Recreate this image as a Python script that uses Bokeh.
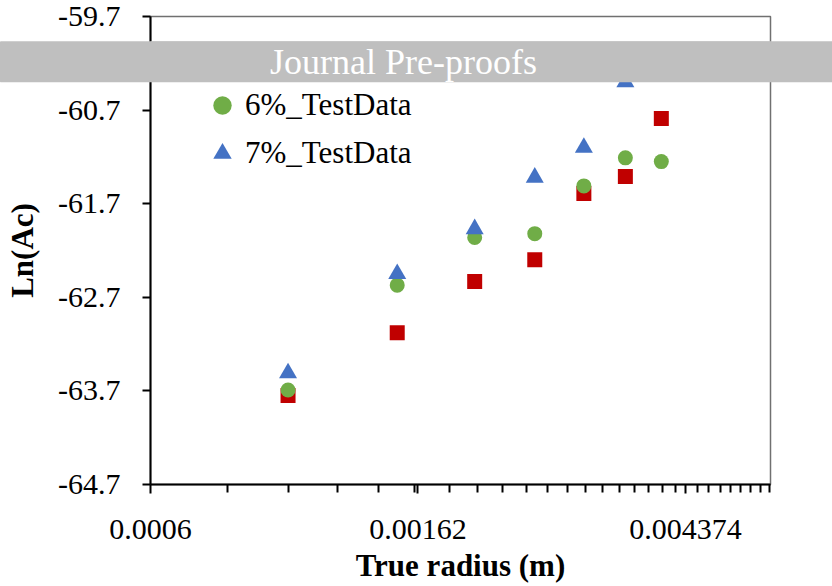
from bokeh.plotting import figure
from bokeh.models import FixedTicker, Legend, LegendItem, Label, BoxAnnotation, Range1d
from bokeh.embed import file_html
from bokeh.resources import INLINE

# True radius (m) of each test point
radius = [0.001, 0.0015, 0.002, 0.0025, 0.003, 0.0035, 0.004]
radius_7 = [0.001, 0.0015, 0.002, 0.0025, 0.003, 0.0035]

# Ln(Ac) per data set
ln_ac_5 = [-63.75, -63.08, -62.53, -62.30, -61.59, -61.41, -60.79]
ln_ac_6 = [-63.69, -62.57, -62.06, -62.02, -61.51, -61.21, -61.25]
ln_ac_7 = [-63.51, -62.45, -61.97, -61.42, -61.10, -60.40]

# axis ticks and labels
x_major = [0.0006, 0.00162, 0.004374]
x_labels = ["0.0006", "0.00162", "0.004374"]
y_major = [-64.7, -63.7, -62.7, -61.7, -60.7, -59.7]
y_labels = ["-64.7", "-63.7", "-62.7", "-61.7", "-60.7", "-59.7"]

X_MIN, X_MAX = 0.0006, 0.006
Y_MIN, Y_MAX = -64.7, -59.7
MINOR_STEP = 0.0002

# minor ticks: fixed linear step counted from each major tick
x_minor = []
bounds = x_major + [X_MAX]
for lo, hi in zip(bounds[:-1], bounds[1:]):
    k = 1
    while lo + k * MINOR_STEP < hi - 1e-9:
        x_minor.append(round(lo + k * MINOR_STEP, 7))
        k += 1

SERIF = "Liberation Serif"
W, H = 832, 586
BANNER_GREY = "#BFBFBF"
BANNER_TOP, BANNER_BOTTOM = 41, 81.5

p = figure(width=W, height=H, x_axis_type="log",
           x_range=Range1d(X_MIN, X_MAX), y_range=Range1d(Y_MIN, Y_MAX),
           output_backend="svg", toolbar_location=None,
           min_border_left=150, min_border_right=62,
           min_border_top=16, min_border_bottom=102)

p.background_fill_color = "white"
p.border_fill_color = "white"
p.outline_line_color = "#707070"
p.outline_line_width = 1.5
p.xgrid.visible = False
p.ygrid.visible = False

red = p.scatter(radius, ln_ac_5, marker="square", size=15,
                fill_color="#C00000", line_color=None)
green = p.scatter(radius, ln_ac_6, marker="circle", size=15,
                  fill_color="#70AD47", line_color=None)
blue = p.scatter(radius_7, ln_ac_7, marker="triangle", size=18,
                 fill_color="#4472C4", line_color=None)

xa = p.xaxis[0]
xa.ticker = FixedTicker(ticks=x_major, minor_ticks=x_minor)
xa.major_label_overrides = dict(zip(x_major, x_labels))
xa.axis_line_color = "black"
xa.axis_line_width = 2
xa.major_tick_in = 0
xa.major_tick_out = 9
xa.minor_tick_in = 0
xa.minor_tick_out = 8
xa.major_tick_line_width = 2
xa.minor_tick_line_width = 2
xa.major_tick_line_color = "black"
xa.minor_tick_line_color = "black"
xa.major_label_standoff = 26
xa.major_label_text_font = SERIF
xa.major_label_text_font_size = "30px"
xa.major_label_text_color = "black"
xa.axis_label = "True radius (m)"
xa.axis_label_text_font = SERIF
xa.axis_label_text_font_size = "31px"
xa.axis_label_text_font_style = "bold"
xa.axis_label_text_color = "black"
xa.axis_label_standoff = 6

ya = p.yaxis[0]
ya.ticker = FixedTicker(ticks=y_major, minor_ticks=[])
ya.major_label_overrides = dict(zip(y_major, y_labels))
ya.axis_line_color = "black"
ya.axis_line_width = 2
ya.major_tick_in = 0
ya.major_tick_out = 8
ya.minor_tick_out = 0
ya.major_tick_line_width = 2
ya.major_tick_line_color = "black"
ya.major_label_standoff = 22
ya.major_label_text_font = SERIF
ya.major_label_text_font_size = "30px"
ya.major_label_text_color = "black"
ya.axis_label = "Ln(Ac)"
ya.axis_label_text_font = SERIF
ya.axis_label_text_font_size = "31px"
ya.axis_label_text_font_style = "bold"
ya.axis_label_text_color = "black"
ya.axis_label_standoff = 15

legend = Legend(items=[LegendItem(label="6%_TestData", renderers=[green]),
                       LegendItem(label="7%_TestData", renderers=[blue])],
                location=(49, 307), orientation="vertical",
                padding=0, margin=0, spacing=0,
                glyph_width=46, glyph_height=48, label_height=48,
                label_standoff=0,
                label_text_font=SERIF, label_text_font_size="31px",
                label_text_color="black",
                border_line_color=None, background_fill_alpha=0)
p.add_layout(legend)

# grey band: the part over the data frame
p.add_layout(BoxAnnotation(left=0, right=W, top=BANNER_TOP, bottom=BANNER_BOTTOM,
                           left_units="canvas", right_units="canvas",
                           top_units="canvas", bottom_units="canvas",
                           fill_color=BANNER_GREY, fill_alpha=1.0,
                           line_color=None, level="annotation"))

# grey band across the whole page: a flat box whose thick outline gives the
# band its height; kept in the top panel so it is not confined to the frame
p.add_layout(Label(x=0, y=(BANNER_TOP + BANNER_BOTTOM) / 2,
                   x_units="canvas", y_units="canvas",
                   text=" ", text_font_size="1px", text_align="left",
                   text_baseline="middle", text_color=BANNER_GREY,
                   background_fill_color=BANNER_GREY, background_fill_alpha=1.0,
                   border_line_color=BANNER_GREY, border_line_width=28,
                   padding=dict(left=W // 2, right=W // 2, top=6, bottom=6),
                   level="annotation"), "above")

# banner caption
p.add_layout(Label(x=403, y=61, x_units="canvas", y_units="canvas",
                   text="Journal Pre-proofs", text_align="center",
                   text_baseline="middle", text_color="white",
                   text_font=SERIF, text_font_size="36px",
                   level="overlay"))

open("out.html", "w").write(file_html(p, INLINE))
